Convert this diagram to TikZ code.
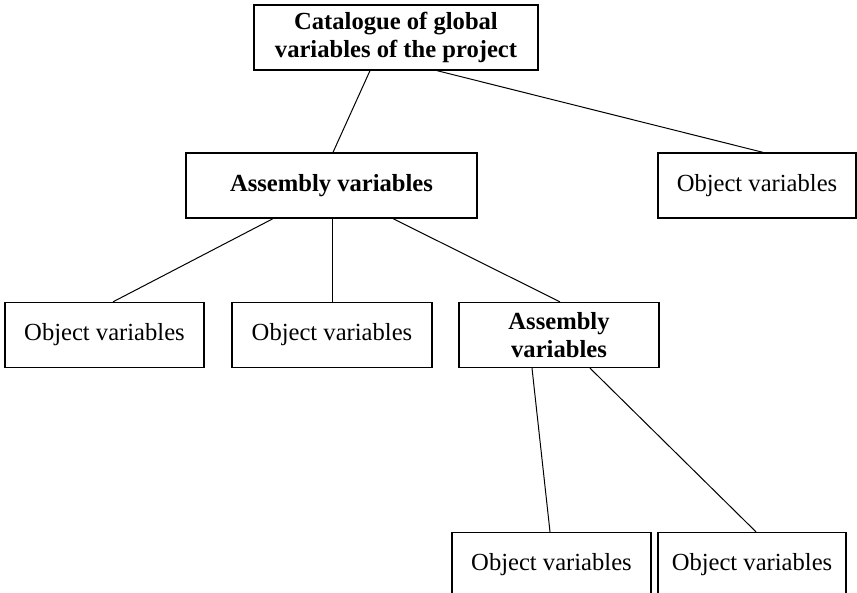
\documentclass[tikz,border=0pt]{standalone}
\usepackage{fontspec}
\setmainfont{Liberation Serif}
\usepackage{tikz}

\begin{document}
\begin{tikzpicture}[
    x=0.5pt, y=-0.5pt,
    box/.style={draw, line width=0.65pt, inner sep=0pt, minimum height=32.5pt, align=center, font=\fontsize{12.3}{14}\selectfont},
    bold/.style={box, font=\fontsize{12.3}{14}\selectfont\bfseries},
    link/.style={line width=0.5pt}
]
\useasboundingbox (0,0) rectangle (857,593);
\clip (0,0) rectangle (857,593);
\node[bold, minimum width=142pt] (catalogue) at (396,37.5) {Catalogue of global\\variables of the project};
\node[bold, minimum width=145.5pt] (assembly) at (331.5,185.5) {Assembly variables};
\node[box, minimum width=99pt] (objright) at (757,185.5) {Object variables};
\node[box, minimum width=99.5pt] (objleft) at (104.5,335) {Object variables};
\node[box, minimum width=100pt] (objmid) at (332,335) {Object variables};
\node[bold, minimum width=100pt] (subassembly) at (559,335) {Assembly\\variables};
\node[box, minimum width=99.5pt] (objlow) at (551.5,565) {Object variables};
\node[box, minimum width=94pt] (objlast) at (752,565) {Object variables};

\draw[link] ([xshift=-13pt]catalogue.south) -- ([xshift=0.75pt]assembly.north);
\draw[link] ([xshift=20.5pt]catalogue.south) -- ([xshift=3pt]objright.north);
\draw[link] ([xshift=-29.25pt]assembly.south) -- ([xshift=4.25pt]objleft.north);
\draw[link] ([xshift=0.25pt]assembly.south) -- (objmid.north);
\draw[link] ([xshift=30.75pt]assembly.south) -- ([xshift=0.5pt]subassembly.north);
\draw[link] ([xshift=-13.5pt]subassembly.south) -- ([xshift=-0.75pt]objlow.north);
\draw[link] ([xshift=15.5pt]subassembly.south) -- ([xshift=2pt]objlast.north);
\end{tikzpicture}
\end{document}
